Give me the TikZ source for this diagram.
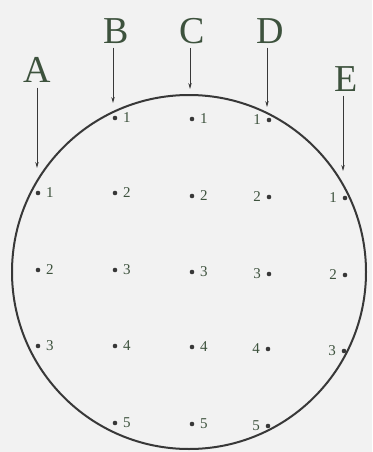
\documentclass[tikz,border=0pt]{standalone}
\usepackage{fontspec}
\setmainfont{Liberation Serif}
\usepackage{xcolor}
\usepackage{tikz}
\usetikzlibrary{positioning,arrows.meta,backgrounds}

\definecolor{ink}{gray}{0.22}
\definecolor{lettering}{rgb}{0.24,0.32,0.24}
\definecolor{paper}{gray}{0.95}

\tikzset{
  pt/.style={circle, fill=ink, inner sep=0pt, minimum size=4.6pt},
  num/.style={text=lettering, font=\fontsize{15}{15}\selectfont, label distance=2pt},
  col/.style={text=lettering, font=\fontsize{38}{38}\selectfont, inner sep=1pt},
  probe/.style={ink, line width=0.8pt, -{Stealth[length=6pt,width=3.4pt]}}
}

\begin{document}
\begin{tikzpicture}[x=1pt, y=-1pt]
\fill[paper] (0,0) rectangle (372,452);
\useasboundingbox (0,0) rectangle (372,452);

% Wafer outline
\draw[ink, line width=2pt] (189,272) circle (177pt);

% Column A
\node[pt, label={[num]right:1}] (A1) at (38,193) {};
\node[pt, label={[num]right:2}] (A2) at (38,270) {};
\node[pt, label={[num]right:3}] (A3) at (38,346) {};

% Column B
\node[pt, label={[num]right:1}] (B1) at (115,118) {};
\node[pt, label={[num]right:2}] (B2) at (115,193) {};
\node[pt, label={[num]right:3}] (B3) at (115,270) {};
\node[pt, label={[num]right:4}] (B4) at (115,346) {};
\node[pt, label={[num]right:5}] (B5) at (115,423) {};

% Column C
\node[pt, label={[num]right:1}] (C1) at (192,119) {};
\node[pt, label={[num]right:2}] (C2) at (192,196) {};
\node[pt, label={[num]right:3}] (C3) at (192,272) {};
\node[pt, label={[num]right:4}] (C4) at (192,347) {};
\node[pt, label={[num]right:5}] (C5) at (192,424) {};

% Column D
\node[pt, label={[num]left:1}] (D1) at (269,120) {};
\node[pt, label={[num]left:2}] (D2) at (269,197) {};
\node[pt, label={[num]left:3}] (D3) at (269,274) {};
\node[pt, label={[num]left:4}] (D4) at (268,349) {};
\node[pt, label={[num]left:5}] (D5) at (268,426) {};

% Column E
\node[pt, label={[num]left:1}] (E1) at (345,198) {};
\node[pt, label={[num]left:2}] (E2) at (345,275) {};
\node[pt, label={[num]left:3}] (E3) at (344,351) {};

% Column letters and scan arrows
\node[col] (lA) at (37,70) {A};
\node[col] (lB) at (116,31) {B};
\node[col] (lC) at (192,31) {C};
\node[col] (lD) at (270,31) {D};
\node[col] (lE) at (346,79) {E};

\coordinate (tA) at (37,168);
\coordinate (tB) at (113,103);
\coordinate (tC) at (190,89);
\coordinate (tD) at (267,107);
\coordinate (tE) at (343,171);

\draw[probe] (lA.south -| tA) ++(0,4) -- (tA);
\draw[probe] (lB.south -| tB) ++(0,3) -- (tB);
\draw[probe] (lC.south -| tC) ++(0,3) -- (tC);
\draw[probe] (lD.south -| tD) ++(0,3) -- (tD);
\draw[probe] (lE.south -| tE) ++(0,3) -- (tE);
\end{tikzpicture}
\end{document}
